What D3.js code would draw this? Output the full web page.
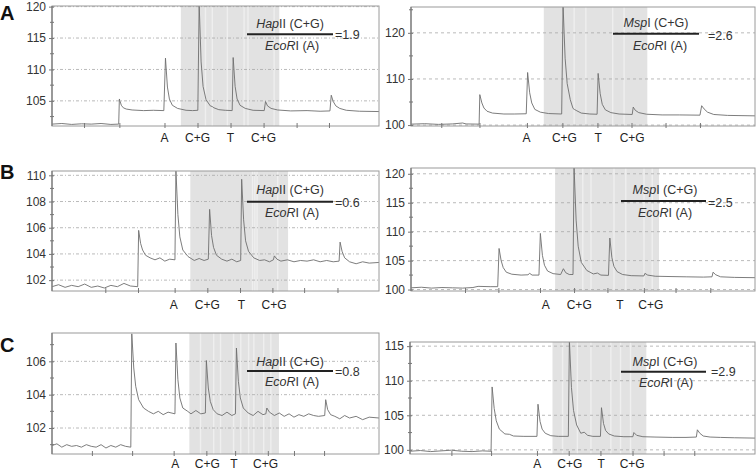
<!DOCTYPE html>
<html><head><meta charset="utf-8">
<script src="https://cdn.jsdelivr.net/npm/d3@7"></script>
<style>
body{margin:0;background:#fff;}
svg{display:block;}
text{font-family:"Liberation Sans",Arial,sans-serif;}
</style>
</head><body>
<svg id="chart" width="756" height="471"></svg>
<script>
// ---------------- DATA ----------------
const rowLetters = ["A", "B", "C"];
const enzymes = ["HapII", "MspI"];
const ratios = [[1.9, 2.6], [0.6, 2.5], [0.8, 2.9]];
const baseLabels = ["A", "C+G", "T", "C+G"];

// y domains (signal units)
const yDomains = [[101.0, 120.1], [99.8, 125.6], [101.17, 110.33], [99.75, 121.0], [100.44, 107.7], [99.4, 115.6]];
const yMajorTicks = [[105, 110, 115, 120], [100, 110, 120], [102, 104, 106, 108, 110], [100, 105, 110, 115, 120], [102, 104, 106], [100, 105, 110, 115]];
const yMinorTicks = [[102.5, 107.5, 112.5, 117.5], [105, 115, 125], [103, 105, 107, 109], [102.5, 107.5, 112.5, 117.5], [101, 103, 105, 107], [102.5, 107.5, 112.5]];

// x positions in dispensation units (0..10)
const xTicks = [
  [0.98, 2.06, 3.44, 4.45, 5.46, 6.47, 7.48, 8.47],
  [0.88, 1.99, 3.37, 4.40, 5.42, 6.41, 7.40, 8.40],
  [1.63, 2.63, 3.75, 4.75, 5.75, 6.74, 7.71, 8.73],
  [1.57, 2.54, 3.75, 4.74, 5.71, 6.77, 7.69, 8.70],
  [1.22, 2.45, 3.72, 4.72, 5.60, 6.60, 7.40, 8.32],
  [1.20, 2.35, 3.68, 4.60, 5.52, 6.45, 7.35, 8.24]
];
const labelPos = [
  [3.44, 4.45, 5.46, 6.47],
  [3.36, 4.46, 5.44, 6.43],
  [3.72, 4.75, 5.79, 6.79],
  [3.92, 4.89, 6.07, 6.97],
  [3.77, 4.75, 5.56, 6.53],
  [3.69, 4.63, 5.54, 6.44]
];
const shadeRanges = [[3.94, 6.95], [3.86, 6.87], [4.23, 7.22], [4.19, 7.21], [4.20, 6.94], [4.13, 6.85]];
const shadeStripes = [
  [4.69, 4.90, 5.36, 5.87, 5.99, 6.79],
  [4.74, 5.08, 5.86, 6.19],
  [6.13, 6.20, 6.27, 6.90],
  [4.99, 5.23, 5.90, 6.24, 6.77, 7.01],
  [4.54, 4.94, 5.15, 5.55, 5.77, 6.01, 6.17, 6.47, 6.69],
  [4.42, 4.85, 5.24, 5.82, 6.10, 6.39]
];

// traces: [dispensation position, signal]
const traceA_Hap = [[0,101.3],[0.3,101.4],[0.6,101.25],[0.9,101.35],[1.2,101.3],[1.5,101.4],[1.8,101.25],[2.04,101.3],
  [2.06,105.3],[2.12,104.3],[2.18,103.9],[2.27,103.7],[2.45,103.55],[2.8,103.45],[3.1,103.5],[3.42,103.45],
  [3.47,111.8],[3.53,107.2],[3.59,105.3],[3.68,104.3],[3.84,103.8],[4.1,103.5],[4.3,103.45],[4.46,103.5],
  [4.5,120.5],[4.56,111.2],[4.62,107.3],[4.71,105.2],[4.84,104.2],[4.9,104.1],[4.95,103.9],[5.1,103.6],[5.3,103.5],[5.51,103.45],
  [5.54,111.9],[5.6,107.3],[5.66,105.3],[5.75,104.3],[5.91,103.8],[6.15,103.5],[6.49,103.45],
  [6.53,104.9],[6.59,104.2],[6.7,103.8],[6.9,103.55],[7.3,103.4],[7.8,103.45],[8.2,103.35],[8.5,103.4],
  [8.54,105.9],[8.6,104.9],[8.68,104.2],[8.8,103.8],[9.0,103.5],[9.4,103.35],[10,103.3]];
const traceA_Msp = [[0,100.2],[0.4,100.3],[0.8,100.15],[1.2,100.25],[1.5,100.45],[1.6,100.25],[1.98,100.2],
  [2.0,106.6],[2.06,104.8],[2.12,103.7],[2.21,103.0],[2.37,102.6],[2.7,102.4],[3.0,102.4],[3.35,102.45],
  [3.39,111.4],[3.45,107.0],[3.51,104.8],[3.6,103.4],[3.76,102.8],[4.0,102.5],[4.38,102.4],
  [4.42,126],[4.48,114.5],[4.54,109],[4.63,105.5],[4.71,103.6],[4.75,103.4],[4.82,103.1],[4.95,102.6],[5.2,102.4],[5.41,102.35],
  [5.44,111.2],[5.5,106.8],[5.56,104.5],[5.65,103.3],[5.81,102.7],[6.05,102.4],[6.43,102.3],
  [6.46,103.9],[6.52,103.2],[6.62,102.7],[6.85,102.35],[7.3,102.2],[7.8,102.2],[8.4,102.15],
  [8.45,104.2],[8.52,103.5],[8.62,102.8],[8.8,102.3],[9.2,102.1],[10,102.0]];
const traceB_Hap = [[0,101.5],[0.2,101.65],[0.4,101.45],[0.6,101.6],[0.8,101.5],[1.0,101.7],[1.2,101.45],[1.4,101.55],[1.6,101.4],[1.8,101.6],[2.0,101.5],[2.2,101.75],[2.4,101.55],[2.62,101.5],
  [2.65,105.8],[2.71,104.8],[2.77,104.3],[2.86,103.9],[3.0,103.7],[3.15,103.55],[3.3,103.7],[3.45,103.45],[3.6,103.6],[3.76,103.55],
  [3.79,110.35],[3.85,107.0],[3.91,105.3],[4.0,104.3],[4.16,103.8],[4.35,103.5],[4.5,103.65],[4.65,103.5],[4.78,103.6],
  [4.82,107.4],[4.88,105.4],[4.94,104.5],[5.03,103.9],[5.19,103.6],[5.35,103.45],[5.5,103.6],[5.65,103.4],[5.77,103.5],
  [5.8,109.7],[5.86,106.6],[5.92,105.0],[6.01,104.2],[6.17,103.7],[6.35,103.5],[6.5,103.55],[6.65,103.4],[6.77,103.55],
  [6.8,103.85],[6.88,103.6],[7.0,103.45],[7.2,103.55],[7.4,103.4],[7.6,103.5],[7.8,103.45],[8.0,103.55],[8.2,103.4],[8.4,103.5],[8.6,103.4],[8.78,103.45],
  [8.81,104.9],[8.87,104.2],[8.95,103.7],[9.1,103.4],[9.3,103.25],[9.5,103.4],[9.7,103.3],[10,103.35]];
const traceB_Msp = [[0,100.3],[0.3,100.4],[0.6,100.25],[0.9,100.35],[1.2,100.3],[1.5,100.25],[1.8,100.35],[1.95,100.55],[2.3,100.5],[2.52,100.5],
  [2.56,107.1],[2.62,105.0],[2.68,103.8],[2.77,103.0],[2.93,102.65],[3.2,102.5],[3.4,102.55],[3.45,102.8],[3.52,102.5],[3.72,102.5],
  [3.76,109.7],[3.82,105.9],[3.88,104.2],[3.97,103.2],[4.13,102.75],[4.35,102.6],[4.43,103.6],[4.5,102.9],[4.6,102.6],[4.71,102.6],
  [4.74,121.2],[4.8,112.0],[4.86,107.5],[4.95,104.7],[5.11,103.3],[5.3,102.7],[5.42,102.85],[5.52,102.5],[5.74,102.45],
  [5.78,108.9],[5.84,105.5],[5.9,104.0],[5.99,103.1],[6.15,102.6],[6.4,102.4],[6.77,102.35],
  [6.8,102.8],[6.88,102.5],[7.1,102.3],[7.5,102.25],[8.0,102.2],[8.5,102.15],[8.75,102.2],
  [8.78,103.0],[8.86,102.55],[9.0,102.2],[9.4,102.1],[10,102.05]];
const traceC_Hap = [[0,100.95],[0.15,101.05],[0.3,100.85],[0.45,101.0],[0.6,100.9],[0.75,100.95],[0.9,100.85],[1.05,101.0],[1.2,100.9],[1.35,100.85],[1.5,101.0],[1.65,100.8],[1.8,100.95],[1.95,100.85],[2.1,101.0],[2.25,100.9],[2.41,100.85],
  [2.44,107.65],[2.5,105.6],[2.56,104.5],[2.65,103.7],[2.8,103.2],[2.95,103.0],[3.1,102.85],[3.25,103.0],[3.4,102.8],[3.55,102.95],[3.76,102.85],
  [3.79,107.1],[3.85,104.9],[3.91,103.8],[4.0,103.2],[4.15,103.0],[4.25,102.85],[4.4,103.05],[4.55,102.85],[4.69,102.9],
  [4.72,106.05],[4.78,104.4],[4.84,103.6],[4.93,103.1],[5.05,102.85],[5.2,102.75],[5.35,102.95],[5.5,102.75],[5.61,102.85],
  [5.64,106.8],[5.7,104.8],[5.76,103.8],[5.85,103.2],[6.0,102.9],[6.15,102.75],[6.3,103.0],[6.45,102.8],[6.54,102.85],
  [6.57,103.2],[6.65,102.95],[6.8,102.75],[6.95,102.9],[7.1,102.7],[7.25,102.85],[7.4,102.65],[7.55,102.8],[7.7,102.7],[7.85,102.85],[8.0,102.75],[8.15,102.7],[8.34,102.75],
  [8.37,103.7],[8.43,103.1],[8.52,102.8],[8.65,102.7],[8.8,102.55],[8.95,102.75],[9.1,102.6],[9.3,102.7],[9.5,102.5],[9.7,102.65],[10,102.6]];
const traceC_Msp = [[0,99.8],[0.3,99.9],[0.6,99.75],[0.9,99.85],[1.2,99.95],[1.5,99.8],[1.8,99.75],[2.1,99.85],[2.35,99.8],
  [2.38,109.1],[2.44,106.0],[2.5,104.2],[2.59,103.0],[2.75,102.3],[2.88,102.25],[3.0,102.0],[3.3,101.95],[3.68,101.95],
  [3.71,106.6],[3.77,104.1],[3.83,103.0],[3.92,102.4],[4.08,102.05],[4.3,101.95],[4.59,101.95],
  [4.62,115.8],[4.68,109.0],[4.74,105.7],[4.83,103.6],[4.95,102.4],[5.05,102.55],[5.15,102.1],[5.3,101.95],[5.52,101.95],
  [5.55,106.1],[5.61,103.8],[5.67,102.8],[5.76,102.3],[5.92,102.0],[6.2,101.9],[6.46,101.9],
  [6.49,102.5],[6.57,102.1],[6.75,101.9],[7.1,101.85],[7.6,101.8],[8.0,101.8],[8.3,101.85],
  [8.33,102.9],[8.4,102.4],[8.5,102.0],[8.7,101.85],[9.0,101.8],[9.4,101.75],[10,101.7]];
const traces = [traceA_Hap, traceA_Msp, traceB_Hap, traceB_Msp, traceC_Hap, traceC_Msp];

// ---------------- LAYOUT ----------------
const boxes = [[52,6,379,126],[411,7,755,126],[52,171,379,291],[411,168,755,291],[52,333,379,454],[410,342,755,454]];
// fraction layout: [barX1, barX2, barY, numCx, numBase, denCx, denBase, ratioX, ratioBase]
const fracLayout = [
  [247,333,34.3,290,27.5,292,49.5,335,39],
  [613,699,33.7,656,27.2,660,49.5,708,39.5],
  [247,333,201.7,290,193.8,292,217.2,335,206.5],
  [621,706,201,665,193.8,665,217.2,708,206.5],
  [247,333,371,290,366.2,292,385.5,335,375.5],
  [621,706,371.7,665,366.2,666,387.2,711,375.5]
];
const labelBase = [141.5, 308.5, 468];
const letterPos = [[0,20],[0,179],[0,352]];

const svg = d3.select("#chart");
const gridColor = "#a8a8a8";

for (let i = 0; i < 6; i++) {
  const [x0, y0, x1, y1] = boxes[i];
  const row = Math.floor(i / 2), col = i % 2;
  const x = d3.scaleLinear().domain([0, 10]).range([x0, x1]);
  const y = d3.scaleLinear().domain(yDomains[i]).range([y1, y0]);
  const g = svg.append("g");

  const clipId = "clip" + i;
  svg.append("clipPath").attr("id", clipId).append("rect")
    .attr("x", x0).attr("y", y0).attr("width", x1 - x0).attr("height", y1 - y0);

  // shaded region
  const sr = shadeRanges[i];
  g.append("rect").attr("x", x(sr[0])).attr("y", y0).attr("width", x(sr[1]) - x(sr[0])).attr("height", y1 - y0)
    .attr("fill", "#e2e2e2");
  g.selectAll(".stripe").data(shadeStripes[i]).enter().append("rect")
    .attr("x", d => x(d) - 0.6).attr("y", y0).attr("width", 1.4).attr("height", y1 - y0)
    .attr("fill", "#efefef");

  // gridlines
  g.selectAll(".grid").data(yMajorTicks[i]).enter().append("line")
    .attr("x1", x0).attr("x2", x1).attr("y1", d => y(d)).attr("y2", d => y(d))
    .attr("stroke", gridColor).attr("stroke-width", 0.8)
    .attr("stroke-dasharray", col === 0 ? "3,2,1,2" : "3,3");

  // trace
  const line = d3.line().x(d => x(d[0])).y(d => y(d[1]));
  g.append("path").datum(traces[i]).attr("d", line)
    .attr("clip-path", "url(#" + clipId + ")")
    .attr("fill", "none").attr("stroke", "#6e6e6e").attr("stroke-width", 0.9);

  // frame
  g.append("rect").attr("x", x0).attr("y", y0).attr("width", x1 - x0).attr("height", y1 - y0)
    .attr("fill", "none").attr("stroke", "#9a9a9a").attr("stroke-width", 1);
  g.append("line").attr("x1", x0).attr("x2", x0).attr("y1", y0).attr("y2", y1)
    .attr("stroke", "#777").attr("stroke-width", 1.2);

  // y axis
  const yAxis = d3.axisLeft(y).tickValues(yMajorTicks[i]).tickSize(3).tickPadding(3).tickFormat(d3.format("d"));
  const ya = g.append("g").attr("transform", `translate(${x0},0)`).call(yAxis);
  ya.select(".domain").remove();
  ya.selectAll("line").attr("stroke", "#777").attr("x2", 2).attr("x1", -3);
  ya.selectAll("text").attr("font-size", 12).attr("fill", "#333")
    .style("font-family", '"Liberation Sans", Arial, sans-serif');
  g.selectAll(".minor").data(yMinorTicks[i]).enter().append("line")
    .attr("x1", x0 - 2).attr("x2", x0 + 2).attr("y1", d => y(d)).attr("y2", d => y(d))
    .attr("stroke", "#777").attr("stroke-width", 1);

  // x axis ticks
  const xAxis = d3.axisBottom(x).tickValues(xTicks[i]).tickSize(-3).tickFormat("");
  const xa = g.append("g").attr("transform", `translate(0,${y1})`).call(xAxis);
  xa.select(".domain").remove();
  xa.selectAll("line").attr("stroke", "#777").attr("y2", -3).attr("y1", 2);

  // base labels
  g.selectAll(".bl").data(labelPos[i]).enter().append("text")
    .attr("x", d => x(d)).attr("y", labelBase[row])
    .attr("text-anchor", "middle").attr("font-size", 12).attr("fill", "#222")
    .text((d, k) => baseLabels[k]);

  // fraction
  const f = fracLayout[i];
  g.append("line").attr("x1", f[0]).attr("x2", f[1]).attr("y1", f[2]).attr("y2", f[2])
    .attr("stroke", "#222").attr("stroke-width", 2);
  const enz = enzymes[col];
  const num = g.append("text").attr("x", f[3]).attr("y", f[4]).attr("text-anchor", "middle")
    .attr("font-size", 12.5).attr("fill", "#333");
  num.append("tspan").attr("font-style", "italic").text(enz === "HapII" ? "Hap" : "Msp");
  num.append("tspan").text(enz === "HapII" ? "II (C+G)" : "I (C+G)");
  const den = g.append("text").attr("x", f[5]).attr("y", f[6]).attr("text-anchor", "middle")
    .attr("font-size", 12.5).attr("fill", "#333");
  den.append("tspan").attr("font-style", "italic").text("EcoR");
  den.append("tspan").text("I (A)");
  g.append("text").attr("x", f[7]).attr("y", f[8]).attr("font-size", 12.5).attr("fill", "#333")
    .text("=" + ratios[row][col].toFixed(1));

  // panel letter
  if (col === 0) {
    svg.append("text").attr("x", letterPos[row][0]).attr("y", letterPos[row][1])
      .attr("font-size", 20).attr("font-weight", "bold").attr("fill", "#111")
      .text(rowLetters[row]);
  }
}
</script>
</body></html>
